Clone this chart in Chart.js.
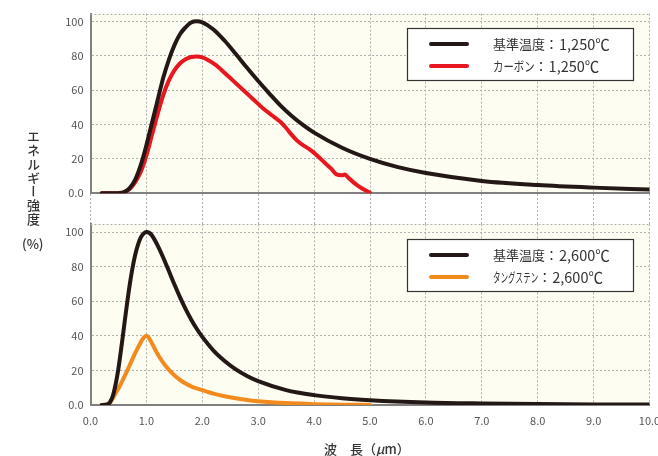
<!DOCTYPE html>
<html><head><meta charset="utf-8">
<script src="https://cdn.jsdelivr.net/npm/chart.js@4/dist/chart.umd.min.js"></script>
<style>
html,body{margin:0;padding:0;background:#fff;overflow:hidden;width:658px;height:456px;}
#wrap{position:relative;width:658px;height:456px;overflow:hidden;}
canvas{position:absolute;left:0;}
#c1{top:0;}
#c2{top:200px;}
#ytitle{position:absolute;left:25px;top:130px;writing-mode:vertical-rl;font:500 13px "Noto Sans CJK JP";color:#333;line-height:16px;letter-spacing:0.7px;}
#yunit{position:absolute;left:22px;top:234px;font:500 13px "Noto Sans CJK JP";color:#333;}
#xtitle{position:absolute;left:324px;top:439px;font:500 13px "Noto Sans CJK JP";color:#333;white-space:pre;}
</style>
</head><body>
<div id="wrap">
<canvas id="c1" width="680" height="224"></canvas>
<canvas id="c2" width="680" height="256"></canvas>
<div id="ytitle">エネルギー強度</div>
<div id="yunit">(%)</div>
<div id="xtitle">波　長（<i>μ</i>m）</div>
</div>
<script>
// ---- data ----
const xTickLabels = ['0.0','1.0','2.0','3.0','4.0','5.0','6.0','7.0','8.0','9.0','10.0'];
const yTickLabels = ['0.0','20','40','60','80','100'];

const labelsTop = ['基準温度：1,250℃', 'カーボン：1,250℃'];
const labelsBottom = ['基準温度：2,600℃', 'タングステン：2,600℃'];

const base1250X = [0.2,0.4,0.5,0.6,0.7,0.8,0.9,1.0,1.1,1.2,1.3,1.4,1.5,1.6,1.7,1.8,1.9,2.0,2.2,2.4,2.6,2.8,3.0,3.2,3.4,3.6,3.8,4.0,4.5,5.0,5.5,6.0,7.0,8.0,9.0,10.0];
const base1250Y = [0,0,0.1,0.7,3,8,16.5,28,41,54,67,77.5,86,92.5,96.5,99.3,100,99.4,95.3,88.7,81,73,65.3,58,51,45,39.8,35.3,26.5,20,15.2,11.8,7.2,4.8,3.3,2.2];

const carbonX = [0.2,0.4,0.5,0.6,0.7,0.8,0.9,1.0,1.1,1.2,1.3,1.4,1.5,1.6,1.7,1.8,1.9,2.0,2.1,2.2,2.3,2.4,2.5,2.6,2.7,2.8,2.9,3.0,3.1,3.2,3.3,3.4,3.5,3.6,3.7,3.8,3.9,4.0,4.1,4.2,4.3,4.4,4.5,4.55,4.6,4.7,4.8,4.9,5.0];
const carbonY = [0,0,0.1,0.6,2.5,6.5,12.5,22,34,46,57,65.5,71.5,75.5,78,79.3,79.5,79,77.5,75.5,73,70,67,64,61,58,55,52,49,46.5,44,41.5,38,34,30.5,28,26,23.5,20.5,17.5,14.5,11,10.5,11,9.5,6.5,4,2,0.3];

const base2600X = [0.2,0.3,0.35,0.4,0.45,0.5,0.55,0.6,0.65,0.7,0.75,0.8,0.85,0.9,0.95,1.0,1.05,1.1,1.2,1.3,1.4,1.5,1.6,1.7,1.8,1.9,2.0,2.2,2.4,2.6,2.8,3.0,3.5,4.0,4.5,5.0,6.0,7.0,8.0,9.0,10.0];
const base2600Y = [0,0.3,1.7,5.3,12,21.2,32.8,45.3,57.7,69.2,79,86.9,92.7,96.9,99.1,100,99.6,98,92.3,85.3,77.6,69.8,62.4,55.6,49.5,44.1,39.4,31.5,25.5,20.6,16.8,13.8,8.6,5.7,3.9,2.8,1.5,0.9,0.55,0.35,0.25];

const tungstenX = [0.2,0.3,0.35,0.4,0.45,0.5,0.6,0.7,0.8,0.9,0.95,1.0,1.05,1.1,1.2,1.3,1.4,1.5,1.6,1.7,1.8,1.9,2.0,2.2,2.4,2.6,2.8,3.0,3.5,4.0,4.5,5.0];
const tungstenY = [0,0.3,1.5,4,6.8,9.5,16,23,30,36.3,38.9,40,38.6,35.6,29.5,24.5,20.5,17.2,14.5,12.4,10.8,9.6,8.6,6.6,5.1,3.9,2.9,2.2,1.1,0.5,0.2,0.05];

const colBlack = '#231815', colRed = '#e8161e', colOrange = '#f28a1e';

// ---- helpers ----
const pts = (xs, ys) => xs.map((x, i) => ({x: x, y: ys[i]}));
const FONT = '"Noto Sans CJK JP", "Noto Sans", sans-serif';

const bgPlugin = {
  id: 'plotbg',
  beforeDraw(chart) {
    const {ctx, chartArea: a} = chart;
    ctx.save();
    ctx.fillStyle = '#fefdf1';
    ctx.fillRect(a.left, a.top, a.right - a.left, a.bottom - a.top);
    ctx.restore();
  },
  beforeDatasetsDraw(chart) {
    const {ctx, chartArea: a} = chart;
    ctx.save();
    ctx.strokeStyle = '#b0b0b0';
    ctx.lineWidth = 1;
    ctx.setLineDash([2, 2]);
    ctx.beginPath();
    ctx.moveTo(a.left, Math.round(a.top) + 0.5);
    ctx.lineTo(a.right, Math.round(a.top) + 0.5);
    ctx.stroke();
    ctx.restore();
  },
  afterDraw(chart, args, opts) {
    const {ctx, chartArea: a} = chart;
    const bw = 227, bh = 53;
    const bx = Math.round(a.right - 15.5 - bw), by = Math.round(a.top + 14.5);
    ctx.save();
    ctx.fillStyle = '#fff';
    ctx.fillRect(bx, by, bw, bh);
    ctx.strokeStyle = '#333';
    ctx.lineWidth = 1.2;
    ctx.strokeRect(bx + 0.5, by + 0.5, bw - 1, bh - 1);
    chart.data.datasets.forEach((ds, i) => {
      const y = by + 16 + i * 22;
      ctx.strokeStyle = ds.borderColor;
      ctx.lineWidth = 4;
      ctx.lineCap = 'round';
      ctx.beginPath();
      ctx.moveTo(bx + 24, y);
      ctx.lineTo(bx + 60, y);
      ctx.stroke();
      const parts = ds.label.split('：');
      ctx.fillStyle = '#333';
      ctx.textBaseline = 'middle';
      const sx = opts.squeeze[i];
      let x = bx + 86;
      ctx.font = '13px ' + FONT;
      ctx.save();
      ctx.translate(x, y);
      ctx.scale(sx, 1);
      ctx.fillText(parts[0], 0, 0);
      ctx.restore();
      x += ctx.measureText(parts[0]).width * sx;
      ctx.fillText('：', x, y);
      x += ctx.measureText('：').width + 1;
      ctx.font = '14.5px ' + FONT;
      ctx.fillText(parts[1], x, y);
    });
    ctx.restore();
  }
};

function makeOptions(isTop, squeeze) {
  return {
    responsive: false,
    animation: false,
    events: [],
    layout: {padding: {top: isTop ? 12.7 : 24.3, right: 30.5, left: 0, bottom: 0}},
    plugins: {legend: {display: false}, tooltip: {enabled: false}, plotbg: {squeeze: squeeze}},
    elements: {point: {radius: 0}, line: {borderWidth: 4, cubicInterpolationMode: 'monotone', borderCapStyle: 'round', borderJoinStyle: 'round'}},
    scales: {
      x: {
        type: 'linear', min: 0, max: 10,
        afterFit: s => { s.height = isTop ? 30.7 : 51; },
        ticks: {
          display: !isTop, stepSize: 1, autoSkip: false, maxRotation: 0, padding: 9,
          color: '#555', font: {family: FONT, size: 11},
          callback: (v) => xTickLabels[Math.round(v)]
        },
        grid: {color: '#b0b0b0', lineWidth: 1, drawTicks: isTop, tickLength: 31, tickColor: '#b0b0b0', tickBorderDash: [2, 2], tickWidth: 1},
        border: {display: true, color: '#808080', width: 2, dash: [2, 2]}
      },
      y: {
        type: 'linear', min: 0, max: 104.5,
        afterFit: s => { s.width = 90.5; },
        ticks: {
          stepSize: 20, includeBounds: false, padding: 7,
          color: '#555', font: {family: FONT, size: 11},
          callback: (v) => yTickLabels[Math.round(v / 20)]
        },
        grid: {color: '#b0b0b0', lineWidth: 1, drawTicks: false},
        border: {display: true, color: '#808080', width: 2, dash: [2, 2]}
      }
    }
  };
}

new Chart(document.getElementById('c1'), {
  type: 'line',
  data: {datasets: [
    {label: labelsTop[0], data: pts(base1250X, base1250Y), borderColor: colBlack, fill: false},
    {label: labelsTop[1], data: pts(carbonX, carbonY), borderColor: colRed, fill: false}
  ]},
  options: makeOptions(true, [1, 0.8]),
  plugins: [bgPlugin]
});

new Chart(document.getElementById('c2'), {
  type: 'line',
  data: {datasets: [
    {label: labelsBottom[0], data: pts(base2600X, base2600Y), borderColor: colBlack, fill: false},
    {label: labelsBottom[1], data: pts(tungstenX, tungstenY), borderColor: colOrange, fill: false}
  ]},
  options: makeOptions(false, [1, 0.58]),
  plugins: [bgPlugin]
});
</script>
</body></html>
